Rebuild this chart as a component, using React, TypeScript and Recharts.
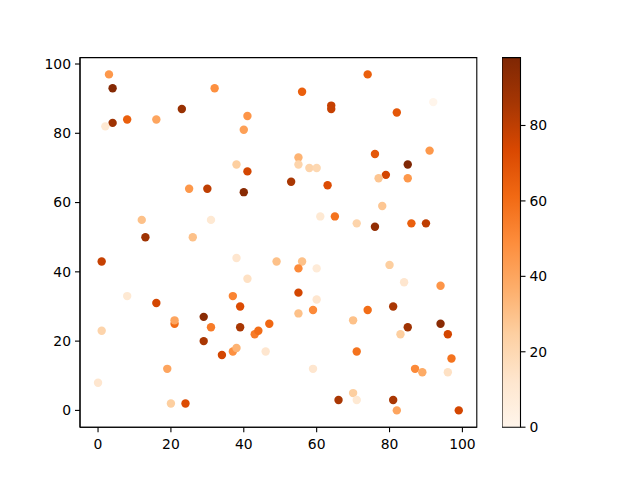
import React from 'react'
import {
  ScatterChart,
  Scatter,
  XAxis,
  YAxis,
  ReferenceArea,
  ComposedChart,
  Line
} from 'recharts'

// point x positions, y positions and colour values
const xValues = [
  3, 4, 32, 23, 8, 16, 4, 2, 41, 40, 38, 41, 74, 56, 64, 64, 92, 82, 91, 76,
  55, 55, 58, 60, 85, 79, 77, 85, 53, 63, 78, 61, 65, 71, 76, 86, 90, 49, 56, 55,
  60, 80, 84, 94, 55, 60, 81, 25, 30, 40, 12, 31, 13, 26, 1, 38, 41, 8, 37, 16,
  39, 21, 21, 29, 31, 39, 47, 43, 44, 1, 29, 34, 37, 38, 46, 19, 0, 20, 24, 55,
  59, 74, 70, 85, 83, 94, 96, 71, 59, 87, 89, 96, 97, 70, 71, 66, 81, 82, 99
]
const yValues = [
  97, 93, 93, 87, 84, 84, 83, 82, 85, 81, 71, 69, 97, 92, 88, 87, 89, 86, 75, 74,
  73, 71, 70, 70, 71, 68, 67, 67, 66, 65, 59, 56, 56, 54, 53, 54, 54, 43, 43, 41,
  41, 42, 37, 36, 34, 32, 30, 64, 64, 63, 55, 55, 50, 50, 43, 44, 38, 33, 33, 31,
  30, 25, 26, 27, 24, 24, 25, 22, 23, 23, 20, 16, 17, 18, 17, 12, 8, 2, 2, 28,
  29, 29, 26, 24, 22, 25, 22, 17, 12, 12, 11, 11, 15, 5, 3, 3, 3, 0, 0
]
const colorValues = [
  45, 96, 48, 90, 65, 40, 88, 10, 46, 42, 25, 75, 65, 65, 78, 78, 0, 68, 45, 68,
  35, 22, 22, 20, 98, 75, 28, 45, 85, 72, 28, 10, 58, 22, 92, 65, 80, 30, 30, 50,
  8, 25, 12, 46, 75, 12, 85, 45, 80, 95, 30, 10, 88, 30, 78, 12, 15, 10, 52, 75,
  72, 60, 40, 95, 55, 85, 62, 55, 60, 22, 85, 75, 48, 35, 12, 40, 12, 25, 72, 30,
  50, 60, 30, 88, 25, 95, 75, 58, 12, 50, 38, 15, 58, 25, 10, 85, 85, 40, 75
]
const xTicks = [0, 20, 40, 60, 80, 100]
const yTicks = [0, 20, 40, 60, 80, 100]
const colorTicks = [0, 20, 40, 60, 80]

const points = xValues.map((x, i) => ({ x, y: yValues[i], c: colorValues[i] }))
const cMin = Math.min(...colorValues)
const cMax = Math.max(...colorValues)

// matplotlib "Oranges"
const ORANGES = ['#fff5eb', '#fee6ce', '#fdd0a2', '#fdae6b', '#fd8d3c', '#f16913', '#d94801', '#a63603', '#7f2704']

function hexToRgb(h: string) {
  return [1, 3, 5].map(i => parseInt(h.slice(i, i + 2), 16))
}

function orange(v: number) {
  const t = Math.max(0, Math.min(1, (v - cMin) / (cMax - cMin))) * (ORANGES.length - 1)
  const i = Math.min(Math.floor(t), ORANGES.length - 2)
  const f = t - i
  const a = hexToRgb(ORANGES[i])
  const b = hexToRgb(ORANGES[i + 1])
  const rgb = a.map((v0, k) => Math.round(v0 + (b[k] - v0) * f))
  return `rgb(${rgb[0]},${rgb[1]},${rgb[2]})`
}

const font = { fill: '#000', fontSize: 13.9, fontFamily: 'DejaVu Sans' }
const axisLine = { stroke: '#000', strokeWidth: 1.1 }

const Dot = (props: any) => (
  <circle cx={props.cx} cy={props.cy} r={4.2} fill={orange(props.payload.c)} />
)

export default function App() {
  return (
    <div style={{ position: 'absolute', left: 0, top: 0, width: 640, height: 480, background: '#fff' }}>
      <div style={{ position: 'absolute', left: 0, top: 0 }}>
        <ScatterChart
          width={640}
          height={480}
          margin={{ top: 57.6, right: 163.2, bottom: 52.8 - 40, left: 40 }}
        >
          <XAxis
            type="number"
            dataKey="x"
            domain={[-4.95, 103.95]}
            ticks={xTicks}
            allowDataOverflow
            height={40}
            tick={font}
            tickSize={5}
            tickMargin={7}
            axisLine={axisLine}
            tickLine={axisLine}
          />
          <YAxis
            type="number"
            dataKey="y"
            domain={[-4.85, 101.85]}
            ticks={yTicks}
            allowDataOverflow
            width={40}
            tick={font}
            tickSize={5}
            tickMargin={4}
            axisLine={axisLine}
            tickLine={axisLine}
          />
          <Scatter data={points} shape={Dot} isAnimationActive={false} />
          <ReferenceArea
            x1={-4.95}
            x2={103.95}
            y1={-4.85}
            y2={101.85}
            fill="none"
            stroke="#000"
            strokeWidth={1.1}
          />
        </ScatterChart>
      </div>
      <div style={{ position: 'absolute', left: 501.6, top: 0 }}>
        <ComposedChart
          width={138}
          height={480}
          data={[{ n: 'a', v: cMin }, { n: 'b', v: cMax }]}
          margin={{ top: 57.6, right: 79.5, bottom: 52.8, left: 0 }}
        >
          <defs>
            <linearGradient id="cbar" x1="0" y1="1" x2="0" y2="0">
              {ORANGES.map((col, i) => (
                <stop key={i} offset={`${(i / (ORANGES.length - 1)) * 100}%`} stopColor={col} />
              ))}
            </linearGradient>
          </defs>
          <XAxis dataKey="n" hide />
          <YAxis
            type="number"
            orientation="right"
            domain={[cMin, cMax]}
            ticks={colorTicks}
            width={40}
            tick={font}
            tickSize={5}
            tickMargin={4}
            axisLine={false}
            tickLine={axisLine}
          />
          <Line dataKey="v" stroke="none" dot={false} activeDot={false} isAnimationActive={false} />
          <ReferenceArea y1={cMin} y2={cMax} fill="url(#cbar)" fillOpacity={1} stroke="#000" strokeWidth={1.1} />
        </ComposedChart>
      </div>
    </div>
  )
}
